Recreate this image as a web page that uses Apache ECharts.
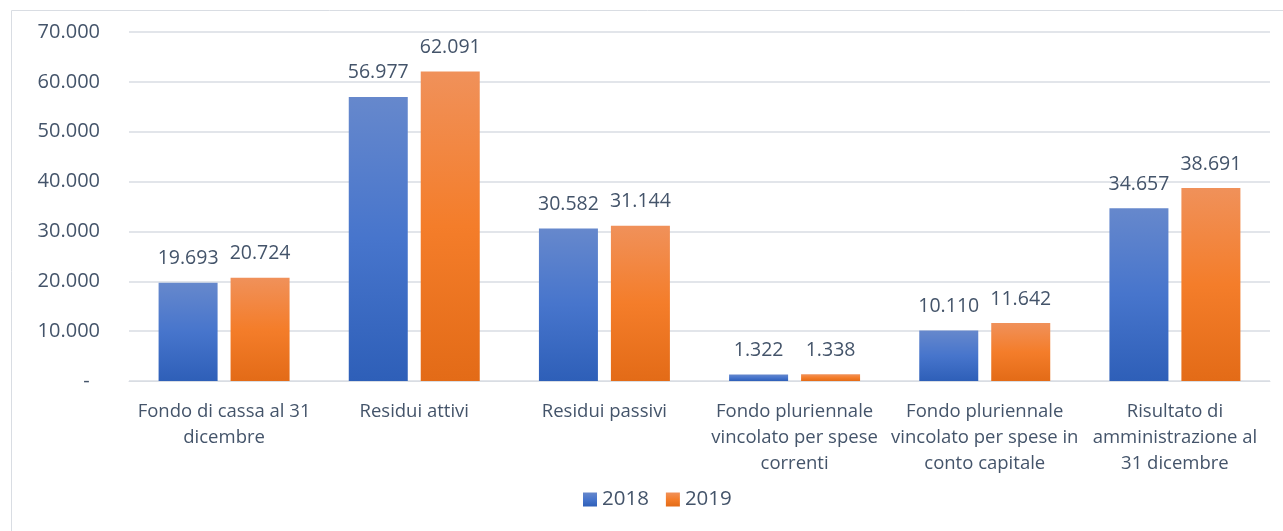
<!DOCTYPE html>
<html>
<head>
<meta charset="utf-8">
<script src="https://cdn.jsdelivr.net/npm/echarts@6/dist/echarts.min.js"></script>
<style>
  html, body { margin: 0; padding: 0; background: #fff; }
  #chart { width: 1283px; height: 531px; }
</style>
</head>
<body>
<div id="chart"></div>
<script>
// dati
var categories = [
  'Fondo di cassa al 31\ndicembre',
  'Residui attivi',
  'Residui passivi',
  'Fondo pluriennale\nvincolato per spese\ncorrenti',
  'Fondo pluriennale\nvincolato per spese in\nconto capitale',
  'Risultato di\namministrazione al\n31 dicembre'
]
var values2018 = [19693, 56977, 30582, 1322, 10110, 34657]
var values2019 = [20724, 62091, 31144, 1338, 11642, 38691]
var years = ['2018', '2019']

var textColor = '#44546a'
var font = 'Open Sans'

// formato italiano con il punto
function fmt(v) {
  if (v === 0) return '-  '
  return String(v).replace(/\B(?=(\d{3})+(?!\d))/g, '.')
}

function grad(top, mid, bottom) {
  return new echarts.graphic.LinearGradient(0, 0, 0, 1, [
    { offset: 0, color: top },
    { offset: 0.5, color: mid },
    { offset: 1, color: bottom }
  ])
}

var blue = grad('#6688cc', '#4775cc', '#2e5fb8')
var orange = grad('#f0915a', '#f47d2a', '#e36b17')

var dataLabel = {
  show: true,
  position: 'top',
  distance: 14,
  color: textColor,
  fontSize: 19.5,
  fontFamily: font,
  formatter: function (p) { return fmt(p.value) }
}

var chart = echarts.init(document.getElementById('chart'))
chart.setOption({
  animation: false,
  textStyle: { fontFamily: font },
  graphic: [{
    type: 'rect',
    shape: { x: 11.5, y: 10.5, width: 1280, height: 530 },
    style: { fill: 'none', stroke: '#d9dde3', lineWidth: 1 },
    silent: true
  }],
  grid: { left: 129, right: 13, top: 32, bottom: 150 },
  legend: {
    data: years,
    bottom: 16,
    left: 578,
    itemWidth: 14,
    itemHeight: 14,
    itemGap: 17,
    icon: 'rect',
    textStyle: { color: textColor, fontSize: 20.5, fontFamily: font }
  },
  xAxis: {
    type: 'category',
    data: categories,
    axisLine: { show: true, lineStyle: { color: '#d9dde3', width: 1 } },
    axisTick: { show: false },
    axisLabel: {
      interval: 0,
      color: textColor,
      fontSize: 18.5,
      lineHeight: 26,
      margin: 18,
      fontFamily: font
    }
  },
  yAxis: {
    type: 'value',
    min: 0,
    max: 70000,
    interval: 10000,
    axisLine: { show: false },
    axisTick: { show: false },
    splitLine: { lineStyle: { color: '#d9dde3', width: 1.5 } },
    axisLabel: {
      color: textColor,
      fontSize: 20,
      margin: 29,
      fontFamily: font,
      formatter: fmt
    }
  },
  series: [
    {
      name: years[0],
      type: 'bar',
      data: values2018,
      barWidth: 59,
      barGap: '22%',
      itemStyle: { color: blue },
      label: dataLabel
    },
    {
      name: years[1],
      type: 'bar',
      data: values2019,
      barWidth: 59,
      itemStyle: { color: orange },
      label: dataLabel
    }
  ]
})
</script>
</body>
</html>
